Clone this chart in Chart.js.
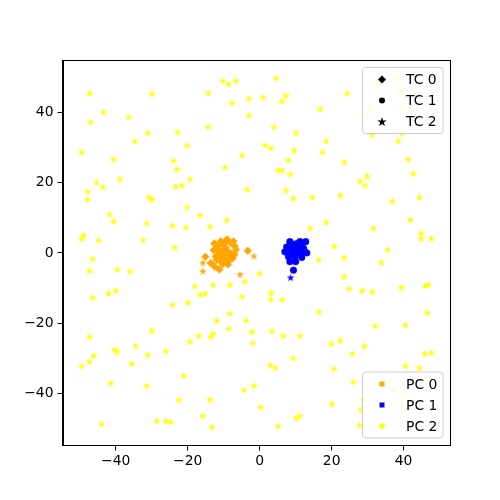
<!DOCTYPE html>
<html><head><meta charset="utf-8">
<script src="https://cdn.jsdelivr.net/npm/chart.js@4/dist/chart.umd.min.js"></script>
<style>html,body{margin:0;padding:0;background:#fff}#wrap{width:500px;height:500px}</style>
</head><body><div id="wrap"><canvas id="c" width="500" height="500"></canvas></div>
<script>
// ---- data ----
const xTicks = [-40, -20, 0, 20, 40];
const yTicks = [-40, -20, 0, 20, 40];
const tcLabels = ['TC 0', 'TC 1', 'TC 2'];
const pcLabels = ['PC 0', 'PC 1', 'PC 2'];
const pcColors = ['#FFA500', '#0000FF', '#FFFF00'];

// PC 0 (orange) with TC 0 markers (diamonds)
const pc0tc0 = [[-9.1,3.9],[-10.8,3.3],[-8.0,2.8],[-6.9,1.9],[-11.7,1.9],[-9.4,1.4],[-8.0,-0.1],[-11.2,-0.1],[-12.2,-1.0],[-9.8,-1.0],[-8.3,-2.0],[-10.8,-2.4],[-13.6,-2.9],[-12.5,-3.9],[-11.2,-4.7],[-3.3,0.6],[-6.6,0.9],[-15.1,-1.1],[-10.0,2.2],[-7.5,-1.5],[-12.8,0.8],[-9.0,0.5],[-10.0,0.8],[-8.5,-0.8],[-11.5,1.0],[-9.5,3.0],[-7.3,3.3],[-12.0,-2.0],[-10.3,-3.2],[-8.8,-3.3],[-7.0,-0.5],[-12.6,2.7],[-9.6,-2.0],[-10.5,-1.2]];
// PC 0 (orange) with TC 2 markers (stars)
const pc0tc2 = [[-15.8,-2.8],[-15.8,-5.2],[-1.6,-0.9],[-5.5,-6.1]];
// PC 1 (blue) with TC 1 markers (circles)
const pc1tc1 = [[8.4,3.2],[11.2,3.2],[12.8,3.2],[7.5,1.7],[9.8,1.7],[12.2,1.3],[7.0,0.3],[8.9,0.3],[10.8,0.3],[13.1,0.0],[8.0,-1.1],[9.8,-1.1],[11.7,-1.3],[8.4,-2.5],[10.0,-2.5],[9.4,-4.9],[10.5,1.0],[9.0,2.5],[10.2,2.6],[11.5,2.0],[9.3,-0.4],[11.0,-0.6],[12.4,0.5],[8.2,1.0]];
// PC 1 (blue) with TC 2 markers (stars)
const pc1tc2 = [[8.6,-7.0]];
// PC 2 (yellow) with TC 2 markers (stars)
const pc2tc2 = [
[-47.3,45.4],[-30.0,45.2],[-14.3,45.4],[-10.2,48.9],[-8.6,47.9],[-6.6,48.9],[-3.0,43.9],[-7.7,42.6],[-43.4,40.0],[-36.4,38.6],[-47.0,37.2],[-3.0,39.2],[-31.1,34.1],[-22.8,34.3],[-14.3,35.8],[-34.7,31.8],[-20.2,30.6],[-49.5,28.6],[-40.6,26.6],[-23.9,26.2],[-23.0,23.8],[-4.9,27.8],[-9.7,24.4],[-38.9,21.0],[-45.3,20.1],[-43.6,18.7],[-19.4,21.0],[-23.3,18.9],[-21.6,19.2],[-47.8,17.5],[-47.8,15.2],[-3.5,18.1],[-30.8,15.9],[-30.0,15.2],[-20.2,13.0],[-41.7,11.0],[-16.6,10.7],[-40.6,9.0],[-31.4,8.4],[-24.2,7.8],[-20.5,7.3],[-13.8,7.5],[-9.1,9.3],[-48.9,5.0],[-49.5,4.1],[-44.8,3.6],[-32.4,3.8],[-23.6,1.6],[-46.4,-1.6],
[4.5,49.7],[0.9,44.3],[7.3,44.7],[6.2,43.2],[24.3,45.4],[16.8,40.9],[4.0,35.8],[10.1,34.1],[18.5,31.8],[1.5,30.6],[3.1,29.8],[9.6,29.2],[17.4,28.6],[7.9,26.4],[23.5,25.8],[5.1,23.5],[6.2,23.5],[8.5,22.4],[29.9,21.8],[27.9,20.4],[29.3,19.2],[41.3,26.6],[42.7,22.6],[7.3,17.8],[9.3,15.5],[14.6,15.8],[22.4,16.4],[36.9,14.7],[44.4,15.8],[14.0,7.0],[18.5,8.7],[31.6,7.0],[41.9,9.5],[44.9,5.6],[44.9,4.1],[47.7,4.1],[20.7,1.9],[35.5,1.0],[23.5,-1.3],[16.4,-1.9],[32.8,48.0],[38.4,49.4],[39.2,45.9],[30.8,40.9],[29.7,39.0],[39.5,41.6],[31.3,33.6],[39.5,34.0],[38.5,31.8],
[-47.3,-5.0],[-39.5,-4.7],[-36.1,-5.3],[-46.4,-12.7],[-42.0,-11.5],[-40.0,-10.7],[-24.2,-14.7],[-20.0,-14.1],[-18.0,-9.5],[-16.6,-11.8],[-15.2,-11.5],[-13.0,-9.0],[-8.3,-9.0],[-4.1,-8.1],[-4.9,-12.4],[-0.1,-5.8],[-11.9,-19.2],[-8.3,-17.2],[-3.8,-19.2],[-2.1,-22.4],[-1.9,-25.5],[-8.6,-21.5],[-13.0,-22.9],[-13.6,-23.8],[-16.9,-23.5],[-19.4,-25.2],[-30.0,-22.1],[-47.3,-23.8],[-34.5,-26.4],[-40.3,-27.5],[-39.7,-28.1],[-46.2,-29.2],[-47.3,-30.9],[-49.5,-32.1],[-35.6,-31.5],[-31.1,-28.9],[-26.1,-27.8],[-21.1,-34.9],[-41.4,-36.9],[-31.4,-37.7],[-22.5,-41.7],[-13.8,-41.7],[-15.8,-46.3],[-13.3,-49.4],[-28.6,-47.7],[-26.1,-47.7],[-24.7,-48.0],[-43.9,-48.6],[-4.4,-38.9],[-1.6,-37.7],[0.3,-43.7],
[33.8,-2.7],[23.5,-6.7],[24.9,-10.1],[28.5,-10.7],[31.3,-11.0],[39.4,-9.8],[46.0,-9.3],[46.9,-9.0],[3.1,-11.3],[3.1,-13.2],[6.2,-13.2],[16.5,-16.7],[46.6,-17.0],[32.1,-20.7],[40.5,-20.4],[3.4,-22.1],[6.5,-23.5],[11.2,-23.5],[19.9,-25.8],[22.4,-24.9],[29.1,-26.4],[25.7,-28.6],[9.3,-29.8],[45.8,-28.6],[47.7,-28.3],[2.9,-31.8],[4.3,-32.6],[20.7,-32.9],[40.5,-32.1],[44.4,-32.6],[26.0,-36.6],[20.1,-42.9],[10.1,-46.9],[11.2,-46.3],[5.1,-49.1],[27.7,-48.9],[37.4,-38.9],[40.2,-40.0],[28.8,-41.7],[28.2,-44.6],[39.4,-43.4]
];

// ---- helpers ----
function starPath(ctx, cx, cy, R) {
  const r = R * 0.382;
  ctx.beginPath();
  for (let i = 0; i < 10; i++) {
    const a = -Math.PI / 2 + i * Math.PI / 5;
    const rr = i % 2 === 0 ? R : r;
    const px = cx + rr * Math.cos(a), py = cy + rr * Math.sin(a);
    if (i === 0) ctx.moveTo(px, py); else ctx.lineTo(px, py);
  }
  ctx.closePath();
}
function starCanvas(color, R) {
  const s = Math.ceil(R * 2 + 2);
  const c = document.createElement('canvas');
  c.width = s; c.height = s;
  const g = c.getContext('2d');
  starPath(g, s / 2, s / 2 + R * 0.1, R);
  g.fillStyle = color; g.fill();
  g.lineWidth = 0.5; g.strokeStyle = color; g.stroke();
  return c;
}
const toXY = arr => arr.map(p => ({x: p[0], y: p[1]}));
const FONT = "'DejaVu Sans', sans-serif";

const ds = (data, color, style, radius) => ({
  data: toXY(data), pointStyle: style, pointRadius: radius, pointHoverRadius: radius,
  backgroundColor: color, borderColor: color, pointBorderWidth: 0.5, showLine: false
});

const framePlugin = {
  id: 'frameAndLegends',
  afterDraw(chart) {
    const ctx = chart.ctx, a = chart.chartArea;
    ctx.save();
    ctx.strokeStyle = '#000'; ctx.lineWidth = 1;
    ctx.strokeRect(Math.round(a.left) + 0.5, Math.round(a.top) + 0.5,
                   Math.round(a.right - a.left) - 1, Math.round(a.bottom - a.top) - 1);
    function box(x, y, w, h) {
      const r = 3;
      ctx.beginPath();
      ctx.moveTo(x + r, y); ctx.lineTo(x + w - r, y); ctx.quadraticCurveTo(x + w, y, x + w, y + r);
      ctx.lineTo(x + w, y + h - r); ctx.quadraticCurveTo(x + w, y + h, x + w - r, y + h);
      ctx.lineTo(x + r, y + h); ctx.quadraticCurveTo(x, y + h, x, y + h - r);
      ctx.lineTo(x, y + r); ctx.quadraticCurveTo(x, y, x + r, y);
      ctx.closePath();
      ctx.fillStyle = 'rgba(255,255,255,0.8)'; ctx.fill();
      ctx.strokeStyle = '#cccccc'; ctx.lineWidth = 1; ctx.stroke();
    }
    const bx = a.right - 87.5, bw = 80.5, bh = 66;
    const mx = bx + 19.5, tx = bx + 43.5;
    ctx.font = '13.9px ' + FONT; ctx.textBaseline = 'middle'; ctx.textAlign = 'left';
    let top = a.top + 7.5;
    box(bx, top, bw, bh);
    tcLabels.forEach((lab, i) => {
      const cy = top + 12 + i * 21;
      ctx.fillStyle = '#000';
      if (i === 0) { ctx.beginPath(); ctx.moveTo(mx, cy - 4); ctx.lineTo(mx + 4, cy); ctx.lineTo(mx, cy + 4); ctx.lineTo(mx - 4, cy); ctx.closePath(); ctx.fill(); }
      else if (i === 1) { ctx.beginPath(); ctx.arc(mx, cy, 3, 0, Math.PI * 2); ctx.fill(); }
      else { starPath(ctx, mx, cy + 0.5, 5); ctx.fill(); }
      ctx.fillText(lab, tx, cy + 1);
    });
    top = a.bottom - 73.5;
    box(bx, top, bw, bh);
    pcLabels.forEach((lab, i) => {
      const cy = top + 12 + i * 21;
      ctx.fillStyle = pcColors[i];
      ctx.fillRect(mx - 2.5, cy - 2.5, 5, 5);
      ctx.fillStyle = '#000';
      ctx.fillText(lab, tx, cy + 1);
    });
    ctx.restore();
  }
};

new Chart(document.getElementById('c'), {
  type: 'scatter',
  data: {
    datasets: [
      ds(pc2tc2, pcColors[2], starCanvas(pcColors[2], 3.4), 3),
      ds(pc0tc0, pcColors[0], 'rectRot', 3.8),
      ds(pc0tc2, pcColors[0], starCanvas(pcColors[0], 3.4), 3),
      ds(pc1tc1, pcColors[1], 'circle', 3.3),
      ds(pc1tc2, pcColors[1], starCanvas(pcColors[1], 3.4), 3)
    ]
  },
  options: {
    responsive: false, animation: false, devicePixelRatio: 1,
    layout: { padding: { left: 0, top: 60, right: 50, bottom: 0 } },
    plugins: { legend: { display: false }, tooltip: { enabled: false } },
    scales: {
      x: {
        type: 'linear', min: -54.8, max: 52.9,
        afterBuildTicks: s => { s.ticks = xTicks.map(v => ({value: v})); },
        afterFit: s => { s.height = 54.5; },
        grid: { drawOnChartArea: false, drawTicks: true, tickLength: 5, color: '#000', lineWidth: 1 },
        border: { display: true, color: '#000' },
        ticks: { color: '#000', font: { family: FONT, size: 13.9 }, padding: 3, maxRotation: 0,
          callback: v => String(v).replace('-', '\u2212') }
      },
      y: {
        type: 'linear', min: -54.7, max: 54.8,
        afterBuildTicks: s => { s.ticks = yTicks.map(v => ({value: v})); },
        afterFit: s => { s.width = 62.5; },
        grid: { drawOnChartArea: false, drawTicks: true, tickLength: 5, color: '#000', lineWidth: 1 },
        border: { display: true, color: '#000' },
        ticks: { color: '#000', font: { family: FONT, size: 13.9 }, padding: 4,
          callback: v => String(v).replace('-', '\u2212') }
      }
    }
  },
  plugins: [framePlugin]
});
</script>
</body></html>
